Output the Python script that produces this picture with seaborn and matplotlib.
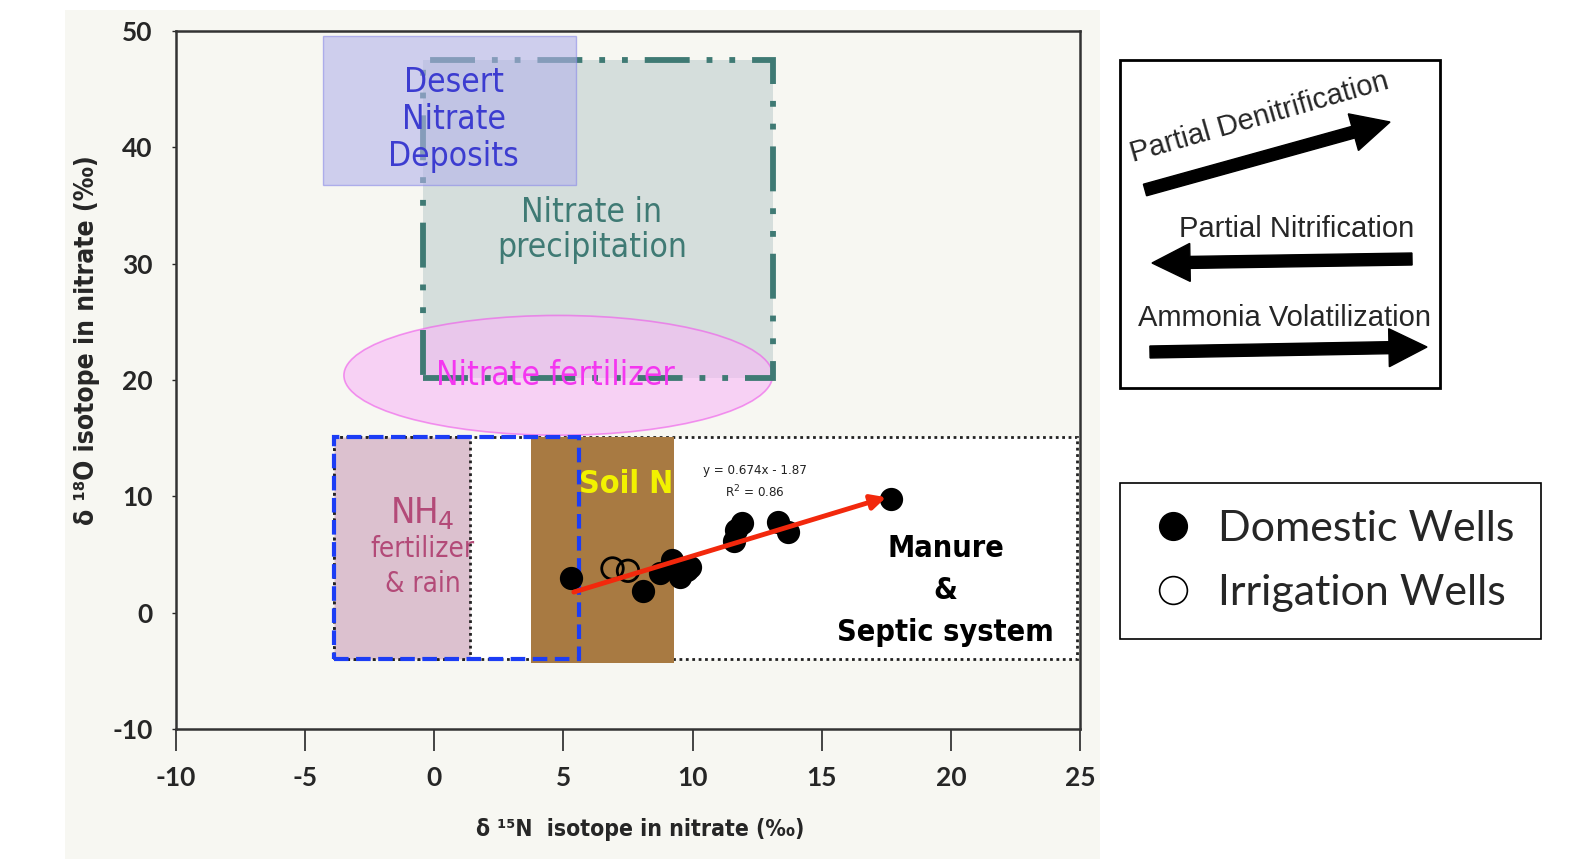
import matplotlib
matplotlib.use('Agg')
import matplotlib.pyplot as plt
import seaborn as sns
import pandas as pd
from matplotlib.patches import Rectangle, Ellipse, FancyArrow
from matplotlib.lines import Line2D

# --- data ---
dom_x = [5.3, 8.1, 8.75, 9.2, 9.5, 9.8, 9.9, 11.6, 11.7, 11.9, 13.3, 13.7, 17.7]
dom_y = [3.0, 1.9, 3.4, 4.5, 3.1, 3.7, 3.9, 6.2, 7.1, 7.7, 7.8, 6.9, 9.8]
irr_x = [6.9, 7.5]
irr_y = [3.8, 3.6]
fit_slope, fit_icept, fit_r2 = 0.674, -1.87, 0.86
fit_x = [5.3, 17.6]

# source fields (x0, x1, y0, y1) in permil
desert = (-4.3, 5.5, 36.8, 49.6)
precip = (-0.45, 13.1, 20.2, 47.5)
fert_ell = (4.8, 20.4, 16.6, 10.3)   # cx, cy, width, height
manure = (-3.9, 24.9, -4.0, 15.1)
nh4 = (-3.9, 1.4, -4.0, 15.1)
soil = (3.75, 9.3, -4.3, 15.1)
ammon_box = (-3.9, 5.6, -4.0, 15.1)

df = pd.DataFrame({'d15N': dom_x + irr_x, 'd18O': dom_y + irr_y,
                   'well': ['Domestic Wells'] * len(dom_x) + ['Irrigation Wells'] * len(irr_x)})

sns.set_style('white')
plt.rcParams['font.family'] = ['DejaVu Sans']
plt.rcParams['axes.unicode_minus'] = False
COND = dict(family='DejaVu Sans', fontstretch='condensed')

fig = plt.figure(figsize=(15.69, 8.59), dpi=100)
fig.patch.set_facecolor('white')
fig.patches.append(Rectangle((65 / 1569, 0), (1100 - 65) / 1569, 1 - 10 / 859,
                             transform=fig.transFigure, facecolor='#f7f7f2', edgecolor='none', zorder=-5))

ax = fig.add_axes([176 / 1569, 1 - 729 / 859, (1080 - 176) / 1569, (729 - 31) / 859])
ax.set_facecolor('#f7f7f2')


def rect(r, **kw):
    return Rectangle((r[0], r[2]), r[1] - r[0], r[3] - r[2], **kw)


ax.add_patch(rect(precip, facecolor='#d5dedc', edgecolor='none', zorder=1))
ax.add_patch(Ellipse((fert_ell[0], fert_ell[1]), fert_ell[2], fert_ell[3], facecolor='#f8b8f6',
                     alpha=0.6, edgecolor='#ee55ea', lw=1.2, zorder=2))
ax.add_patch(rect(precip, facecolor='none', edgecolor='#3f7a74', lw=4.2,
                  linestyle=(0, (7.7, 2.9, 1, 2.9, 1, 2.9)), zorder=3))
ax.add_patch(rect(desert, facecolor='#b4b4ea', alpha=0.6, edgecolor='#8a8ae8', lw=1, zorder=4))
ax.add_patch(rect(manure, facecolor='white', edgecolor='#222222', lw=2, linestyle=(0, (1, 1.3)), zorder=4))
ax.add_patch(rect(nh4, facecolor='#dcc1cf', edgecolor='#222222', lw=2, linestyle=(0, (1, 1.3)), zorder=4))
ax.add_patch(rect(soil, facecolor='#a87a42', edgecolor='none', zorder=5))
ax.add_patch(rect(ammon_box, facecolor='none', edgecolor='#1c3df5', lw=3, linestyle=(0, (3.5, 1.8)), zorder=6))

# region labels
ax.text(0.75, 42.4, 'Desert\nNitrate\nDeposits', color='#3c3cd0', fontsize=24, ha='center', va='center',
        linespacing=1.15, zorder=7, **COND)
ax.text(6.1, 32.9, 'Nitrate in\nprecipitation', color='#3f7a74', fontsize=24, ha='center', va='center',
        linespacing=1.1, zorder=7, **COND)
ax.text(4.7, 20.4, 'Nitrate fertilizer', color='#f436f0', fontsize=24, ha='center', va='center',
        zorder=7, **COND)
ax.text(-0.45, 8.6, 'NH$_4$', color='#b34a78', fontsize=26, ha='center', va='center', zorder=7, **COND)
ax.text(-0.45, 3.95, 'fertilizer\n& rain', color='#b34a78', fontsize=20, ha='center', va='center',
        linespacing=1.3, zorder=7, **COND)
ax.text(7.43, 11.0, 'Soil N', color='#f2f200', fontsize=23, fontweight='bold', ha='center', va='center',
        zorder=7, **COND)
ax.text(19.8, 1.9, 'Manure\n&\nSeptic system', color='black', fontsize=22, fontweight='bold',
        ha='center', va='center', linespacing=1.55, zorder=7, **COND)

# wells
sns.scatterplot(data=df[df.well == 'Irrigation Wells'], x='d15N', y='d18O', s=240, facecolor='none',
                edgecolor='black', linewidth=2, ax=ax, zorder=8, legend=False)
sns.scatterplot(data=df[df.well == 'Domestic Wells'], x='d15N', y='d18O', s=240, color='black',
                edgecolor='black', ax=ax, zorder=9, legend=False)

# regression arrow
fit_y = [fit_slope * v + fit_icept for v in fit_x]
ax.annotate('', xy=(fit_x[1], fit_y[1]), xytext=(fit_x[0], fit_y[0]),
            arrowprops=dict(arrowstyle='-|>', color='#f2280c', lw=3.5, mutation_scale=22), zorder=10)
ax.text(12.4, 11.2, f'y = {fit_slope}x - {abs(fit_icept)}\nR$^2$ = {fit_r2}', fontsize=9.5,
        ha='center', va='center', linespacing=1.5, color='#222222', zorder=10, **COND)

ax.set_xlim(-10, 25)
ax.set_ylim(-10, 50)
ax.set_xticks(range(-10, 26, 5))
ax.set_yticks(range(-10, 51, 10))
for s in ax.spines.values():
    s.set_color('#333333')
    s.set_linewidth(1.8)
ax.tick_params(axis='x', length=16, width=1.2, pad=11, labelsize=19, direction='out', bottom=True)
ax.tick_params(axis='y', length=3, width=1, pad=14, labelsize=19, left=True)
for t in ax.get_xticklabels() + ax.get_yticklabels():
    t.set_family(['Lato', 'DejaVu Sans'])
    t.set_fontweight('bold')

ax.set_xlabel('δ ¹⁵N  isotope in nitrate (‰)', fontsize=16.5, fontweight='bold', **COND)
ax.set_ylabel('δ ¹⁸O isotope in nitrate (‰)', fontsize=19, fontweight='bold', **COND)
ax.xaxis.set_label_coords(0.513, -0.127)
ax.yaxis.set_label_coords(-0.084, 0.557)

# process box on the right (overlay in pixel units)
ov = fig.add_axes([0, 0, 1, 1])
ov.set_xlim(0, 1569)
ov.set_ylim(859, 0)
ov.axis('off')
ov.patch.set_alpha(0)
ov.add_patch(Rectangle((1120, 60), 320, 328, facecolor='white', edgecolor='black', lw=2))
arw = dict(width=12, head_width=38, head_length=38, length_includes_head=True, color='black')
ov.add_patch(FancyArrow(1145, 190, 1390 - 1145, 122 - 190, **arw))
ov.add_patch(FancyArrow(1412, 259, 1152 - 1412, 263 - 259, **arw))
ov.add_patch(FancyArrow(1150, 352, 1427 - 1150, 347 - 352, **arw))
BOXFONT = ['Liberation Sans', 'DejaVu Sans']
ov.text(1259, 117, 'Partial Denitrification', fontsize=21, family=BOXFONT, rotation=16,
        ha='center', va='center', rotation_mode='anchor')
ov.text(1297, 229, 'Partial Nitrification', fontsize=21, family=BOXFONT, ha='center', va='center')
ov.text(1284, 318, 'Ammonia Volatilization', fontsize=21, family=BOXFONT, ha='center', va='center')

# well legend
handles = [Line2D([], [], marker='o', ls='', ms=20, mfc='black', mec='black'),
           Line2D([], [], marker='o', ls='', ms=20, mfc='white', mec='black', mew=1.2)]
leg = fig.legend(handles, ['Domestic Wells', 'Irrigation Wells'], loc='upper left',
                 bbox_to_anchor=(1120 / 1569, 1 - 483 / 859), bbox_transform=fig.transFigure,
                 prop={'family': ['Lato', 'DejaVu Sans'], 'size': 31}, frameon=True, fancybox=False,
                 edgecolor='black', framealpha=1, borderpad=0.62, handletextpad=0.45,
                 labelspacing=0.62, handlelength=1.2, borderaxespad=0)
leg.get_frame().set_linewidth(1.2)

fig.savefig('out.png', dpi=100, facecolor='white')
